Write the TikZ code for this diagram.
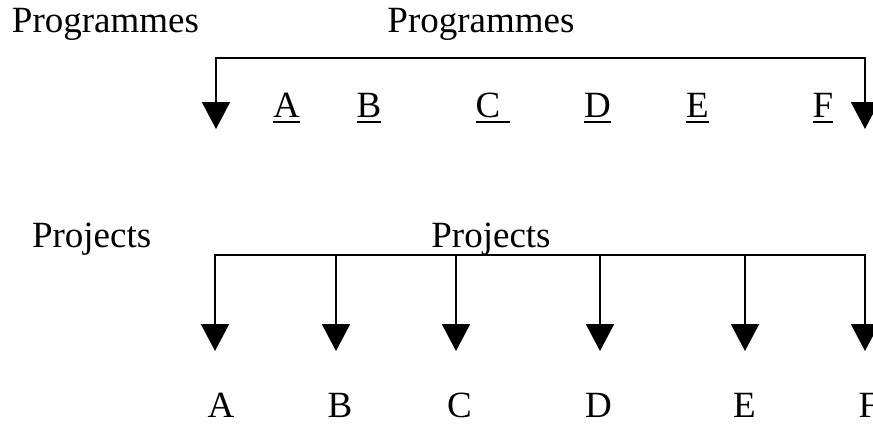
\documentclass[tikz,border=0pt]{standalone}
\usepackage{fontspec}
\setmainfont{Liberation Serif}
\usetikzlibrary{arrows.meta}
\begin{document}
\begin{tikzpicture}[x=1pt,y=-1pt,
  lbl/.style={inner sep=0pt,outer sep=0pt,anchor=base,font=\fontsize{37}{40}\selectfont},
  wire/.style={line width=2pt,line cap=rect},
  down/.style={line width=2pt,-{Triangle[width=28pt,length=27pt]}},
  uline/.style={line width=2pt}]
\useasboundingbox (0,0) rectangle (873,424);

% ---- upper tier: programmes ----
\node[lbl,anchor=base west] (progL) at (12,32) {Programmes};
\node[lbl] (progC) at (481,32) {Programmes};

\coordinate (tl) at (216,58);
\coordinate (tr) at (865,58);
\coordinate (tlend) at (216,129);
\coordinate (trend) at (865,129);
\draw[wire] (tl) -- (tr);
\draw[down] (tl) -- (tlend);
\draw[down] (tr) -- (trend);

% underlined programme letters (the C carries a trailing underlined space)
\foreach \n/\x/\ext in {A/286.5/0,B/369/0,C/488/10,D/597.5/0,E/697.5/0,F/823/0}{
  \node[lbl] (p\n) at (\x,117) {\n};
  \draw[uline] ([yshift=-4.5pt]p\n.base west) -- ([yshift=-4.5pt,xshift=\ext pt]p\n.base east);
}

% ---- lower tier: projects ----
\node[lbl,anchor=base west] (projL) at (32,247) {Projects};
\node[lbl] (projC) at (491,247) {Projects};

\coordinate (bl) at (215,255);
\coordinate (br) at (865,255);
\draw[wire] (bl) -- (br);

\foreach \n/\x/\t in {A/215/221,B/336/340,C/456/459.5,D/600/598.5,E/745/744.5,F/865/869}{
  \coordinate (s\n) at (\x,255);
  \coordinate (e\n) at (\x,351);
  \draw[down] (s\n) -- (e\n);
  \node[lbl] (q\n) at (\t,417) {\n};
}
\end{tikzpicture}
\end{document}
